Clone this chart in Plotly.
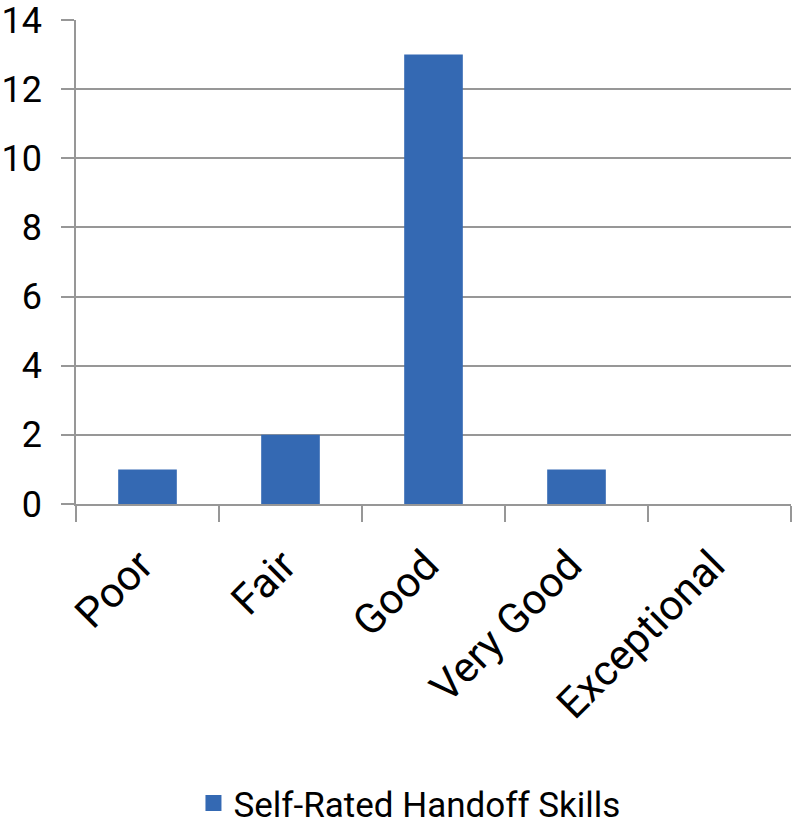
import plotly.graph_objects as go

categories = ["Poor", "Fair", "Good", "Very Good", "Exceptional"]
values = [1, 2, 13, 1, 0]
series_name = "Self-Rated Handoff Skills"
y_ticks = [0, 2, 4, 6, 8, 10, 12, 14]

FONT = "Roboto, Arial, sans-serif"
BAR_COLOR = "#3469b3"
GRID = "#979797"

fig = go.Figure()
fig.add_trace(go.Bar(
    x=categories, y=values, name=series_name,
    marker=dict(color=BAR_COLOR, line=dict(width=0)),
    showlegend=False,
))
# legend proxy (larger square symbol)
fig.add_trace(go.Scatter(
    x=[None], y=[None], mode="markers", name=series_name,
    marker=dict(symbol="square", size=16, color=BAR_COLOR),
    showlegend=True,
))

fig.update_layout(
    width=792, height=828,
    margin=dict(l=76, r=1, t=20, b=324, autoexpand=False),
    paper_bgcolor="white", plot_bgcolor="white",
    font=dict(family=FONT, size=37, color="black"),
    bargap=0.59,
    legend=dict(
        orientation="h", xref="container", yref="container",
        x=0.517, y=0.03, xanchor="center", yanchor="middle",
        font=dict(size=35), itemwidth=30,
    ),
)
fig.update_xaxes(
    type="category", tickangle=-45, tickson="boundaries",
    ticks="outside", ticklen=16, tickwidth=1.5, tickcolor=GRID,
    showline=True, linecolor=GRID, linewidth=1.5,
    showgrid=False, ticklabelstandoff=18, ticklabelshift=-7,
    tickfont=dict(size=42), automargin=False,
)
fig.update_yaxes(
    range=[0, 14], tickvals=y_ticks, ticks="outside", ticklen=13,
    tickwidth=1.5, tickcolor=GRID,
    showline=True, linecolor=GRID, linewidth=1.5,
    showgrid=True, gridcolor=GRID, gridwidth=1.5,
    zeroline=False, ticklabelstandoff=12, automargin=False,
    ticklabeloverflow="allow", tickfont=dict(size=36),
)

fig.write_html("out.html")
